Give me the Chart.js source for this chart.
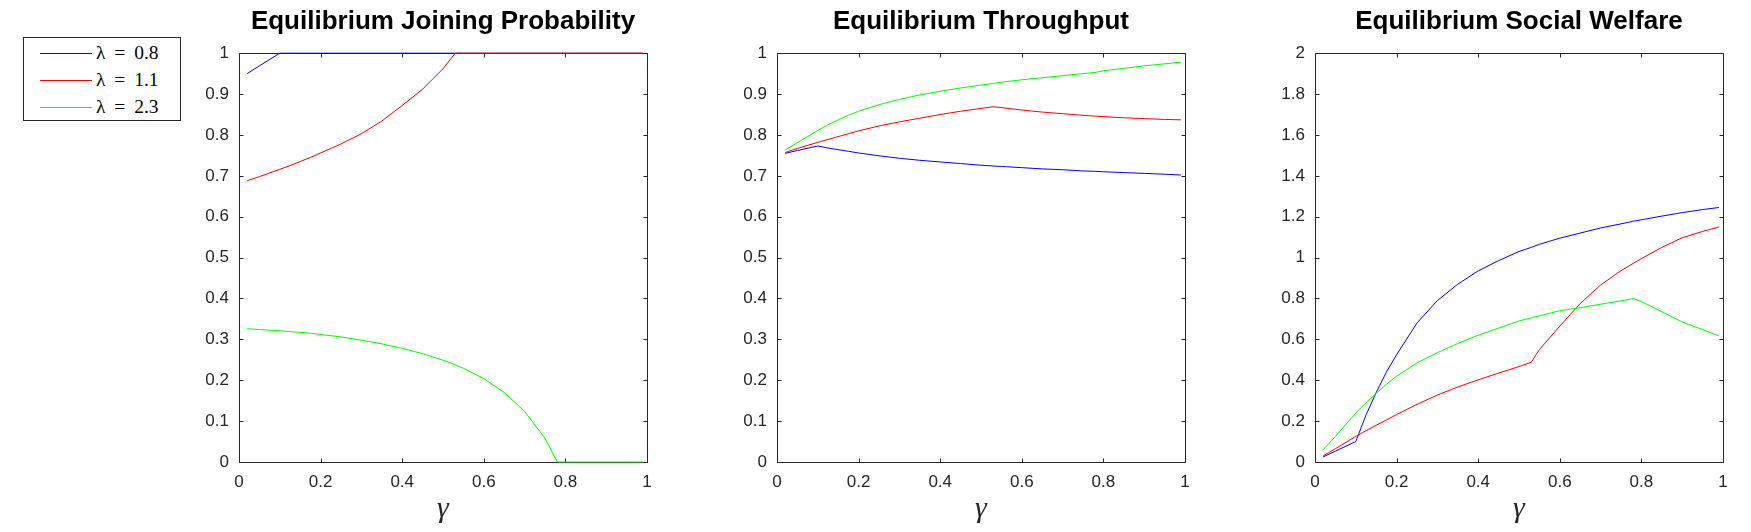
<!DOCTYPE html>
<html>
<head>
<meta charset="utf-8">
<script src="https://cdn.jsdelivr.net/npm/chart.js@4.4.1/dist/chart.umd.min.js"></script>
<style>
  html, body { margin: 0; padding: 0; background: #fff; }
  body { width: 1751px; height: 532px; position: relative; overflow: hidden; }
  .panel { position: absolute; top: 0; }
  #legend { position: absolute; left: 23px; top: 37px; width: 156px; height: 82px; border: 1px solid #262626; background: #fff; }
  .swatch { position: absolute; left: 16px; width: 52px; height: 0; border-top: 1px solid; }
  .lbl { position: absolute; left: 72px; height: 24px; line-height: 24px; font-size: 19.5px; word-spacing: 4px; font-family: "Liberation Serif", "DejaVu Serif", serif; white-space: nowrap; color: #000; }
</style>
</head>
<body>
<div id="legend"></div>
<div class="panel" style="left:179px"><canvas id="joinChart" width="478" height="532"></canvas></div>
<div class="panel" style="left:717px"><canvas id="throughputChart" width="478" height="532"></canvas></div>
<div class="panel" style="left:1255px"><canvas id="welfareChart" width="478" height="532"></canvas></div>
<script>
const gamma = [0.02, 0.05, 0.1, 0.125, 0.15, 0.175, 0.2, 0.25, 0.3, 0.35, 0.4, 0.45, 0.5,
               0.53, 0.55, 0.6, 0.65, 0.7, 0.75, 0.78, 0.8, 0.85, 0.9, 0.95, 0.99];

const seriesLabels = ['\u03bb = 0.8', '\u03bb = 1.1', '\u03bb = 2.3'];
const seriesColors = ['#0000ff', '#ff0000', '#00ff00'];

// Equilibrium Joining Probability
const joinLow  = [0.95, 0.969, 1, 1, 1, 1, 1, 1, 1, 1, 1, 1, 1, 1, 1, 1, 1, 1, 1, 1, 1, 1, 1, 1, 1];
const joinMid  = [0.688, 0.698, 0.716, 0.725, 0.735, 0.745, 0.756, 0.778, 0.803, 0.834, 0.872, 0.912, 0.962,
                  1, 1, 1, 1, 1, 1, 1, 1, 1, 1, 1, 1];
const joinHigh = [0.326, 0.324, 0.321, 0.319, 0.317, 0.315, 0.312, 0.306, 0.298, 0.289, 0.278, 0.265, 0.249,
                  0.238, 0.229, 0.204, 0.17, 0.124, 0.058, 0, 0, 0, 0, 0, 0];

// Equilibrium Throughput
const throughputLow  = [0.755, 0.762, 0.773, 0.768, 0.764, 0.76, 0.756, 0.749, 0.743, 0.738, 0.734, 0.73, 0.726,
                        0.724, 0.723, 0.72, 0.717, 0.715, 0.712, 0.711, 0.71, 0.708, 0.706, 0.704, 0.702];
const throughputMid  = [0.757, 0.767, 0.782, 0.789, 0.796, 0.803, 0.81, 0.822, 0.832, 0.841, 0.85, 0.858, 0.865,
                        0.869, 0.867, 0.861, 0.856, 0.852, 0.848, 0.846, 0.845, 0.842, 0.84, 0.838, 0.837];
const throughputHigh = [0.763, 0.781, 0.811, 0.825, 0.837, 0.848, 0.858, 0.874, 0.887, 0.898, 0.907, 0.915, 0.922,
                        0.926, 0.929, 0.935, 0.94, 0.945, 0.95, 0.953, 0.957, 0.963, 0.969, 0.974, 0.978];

// Equilibrium Social Welfare
const welfareLow  = [0.025, 0.053, 0.1, 0.23, 0.34, 0.44, 0.525, 0.68, 0.79, 0.87, 0.935, 0.985, 1.03,
                     1.05, 1.065, 1.095, 1.12, 1.145, 1.165, 1.178, 1.185, 1.203, 1.22, 1.235, 1.245];
const welfareMid  = [0.03, 0.065, 0.125, 0.153, 0.18, 0.206, 0.232, 0.282, 0.328, 0.367, 0.402, 0.435, 0.467,
                     0.488, 0.55, 0.665, 0.775, 0.866, 0.936, 0.972, 0.995, 1.05, 1.097, 1.128, 1.15];
const welfareHigh = [0.06, 0.125, 0.24, 0.29, 0.335, 0.38, 0.42, 0.485, 0.535, 0.58, 0.62, 0.655, 0.69,
                     0.705, 0.715, 0.74, 0.755, 0.772, 0.788, 0.8, 0.785, 0.735, 0.685, 0.648, 0.617];

const xTicks = [0, 0.2, 0.4, 0.6, 0.8, 1];
const xTickLabels = ['0', '0.2', '0.4', '0.6', '0.8', '1'];
const yTicksUnit = [0, 0.1, 0.2, 0.3, 0.4, 0.5, 0.6, 0.7, 0.8, 0.9, 1];
const yTickLabelsUnit = ['0', '0.1', '0.2', '0.3', '0.4', '0.5', '0.6', '0.7', '0.8', '0.9', '1'];
const yTicksWelfare = [0, 0.2, 0.4, 0.6, 0.8, 1, 1.2, 1.4, 1.6, 1.8, 2];
const yTickLabelsWelfare = ['0', '0.2', '0.4', '0.6', '0.8', '1', '1.2', '1.4', '1.6', '1.8', '2'];

const sansFont = '"Liberation Sans", Arial, Helvetica, sans-serif';
const serifFont = '"Liberation Serif", "DejaVu Serif", serif';
const axisColor = '#262626';

// matlab style box with inward ticks on all four sides
const axesBox = {
    id: 'axesBox',
    beforeDatasetsDraw(chart) {
        const { ctx, chartArea, scales } = chart;
        const L = Math.round(chartArea.left) + 0.5;
        const R = Math.round(chartArea.right) + 0.5;
        const T = Math.round(chartArea.top) + 0.5;
        const B = Math.round(chartArea.bottom) + 0.5;
        const len = 4;
        ctx.save();
        ctx.strokeStyle = axisColor;
        ctx.lineWidth = 1;
        ctx.beginPath();
        ctx.rect(L, T, R - L, B - T);
        scales.x.ticks.forEach(t => {
            const px = Math.round(scales.x.getPixelForValue(t.value)) + 0.5;
            ctx.moveTo(px, B); ctx.lineTo(px, B - len);
            ctx.moveTo(px, T); ctx.lineTo(px, T + len);
        });
        scales.y.ticks.forEach(t => {
            const py = Math.round(scales.y.getPixelForValue(t.value)) + 0.5;
            ctx.moveTo(L, py); ctx.lineTo(L + len, py);
            ctx.moveTo(R, py); ctx.lineTo(R - len, py);
        });
        ctx.stroke();
        ctx.restore();
    }
};

function makePanel(canvasId, title, seriesList, yMax, yTicks, yTickLabels) {
    const ctx = document.getElementById(canvasId).getContext('2d');
    return new Chart(ctx, {
        type: 'line',
        data: {
            datasets: seriesList.map((values, i) => ({
                label: seriesLabels[i],
                data: gamma.map((g, k) => ({ x: g, y: values[k] })),
                borderColor: seriesColors[i],
                borderWidth: 1,
                pointRadius: 0,
                tension: 0,
                fill: false,
                clip: false,
                order: seriesList.length - i
            }))
        },
        options: {
            responsive: false,
            animation: false,
            events: [],
            layout: { padding: { top: 0, right: 10, bottom: 0, left: 0 } },
            plugins: {
                legend: { display: false },
                tooltip: { enabled: false },
                title: {
                    display: true,
                    text: title,
                    fullSize: false,
                    color: '#000',
                    font: { family: sansFont, size: 26, weight: 'bold' },
                    padding: { top: 6, bottom: 16 }
                }
            },
            scales: {
                x: {
                    type: 'linear',
                    min: 0,
                    max: 1,
                    grid: { display: false, drawTicks: false },
                    border: { display: false },
                    afterBuildTicks: s => { s.ticks = xTicks.map(v => ({ value: v })); },
                    afterFit: s => {
                        s.height = 70;
                        s.paddingLeft = 0;
                        s.paddingRight = 0;
                    },
                    ticks: {
                        color: axisColor,
                        font: { family: sansFont, size: 17 },
                        padding: 10,
                        maxRotation: 0,
                        autoSkip: false,
                        callback: (v, i) => xTickLabels[i]
                    },
                    title: {
                        display: true,
                        text: '\u03b3',
                        color: axisColor,
                        font: { family: serifFont, size: 30, style: 'italic' },
                        padding: { top: 0, bottom: 5 }
                    }
                },
                y: {
                    type: 'linear',
                    min: 0,
                    max: yMax,
                    grid: { display: false, drawTicks: false },
                    border: { display: false },
                    afterBuildTicks: s => { s.ticks = yTicks.map(v => ({ value: v })); },
                    afterFit: s => {
                        s.width = 60;
                        s.paddingTop = 0;
                        s.paddingBottom = 0;
                    },
                    ticks: {
                        color: axisColor,
                        font: { family: sansFont, size: 17 },
                        padding: 10,
                        autoSkip: false,
                        callback: (v, i) => yTickLabels[i]
                    }
                }
            }
        },
        plugins: [axesBox]
    });
}

makePanel('joinChart', 'Equilibrium Joining Probability',
    [joinLow, joinMid, joinHigh], 1, yTicksUnit, yTickLabelsUnit);
makePanel('throughputChart', 'Equilibrium Throughput',
    [throughputLow, throughputMid, throughputHigh], 1, yTicksUnit, yTickLabelsUnit);
makePanel('welfareChart', 'Equilibrium Social Welfare',
    [welfareLow, welfareMid, welfareHigh], 2, yTicksWelfare, yTickLabelsWelfare);

// legend box at the left, built from the same labels and colours
const legendBox = document.getElementById('legend');
seriesLabels.forEach((label, i) => {
    const rowY = 15 + i * 27;
    const swatch = document.createElement('div');
    swatch.className = 'swatch';
    swatch.style.top = rowY + 'px';
    swatch.style.borderTopColor = seriesColors[i];
    legendBox.appendChild(swatch);
    const text = document.createElement('div');
    text.className = 'lbl';
    text.style.top = (rowY - 12) + 'px';
    text.textContent = label;
    legendBox.appendChild(text);
});
</script>
</body>
</html>
